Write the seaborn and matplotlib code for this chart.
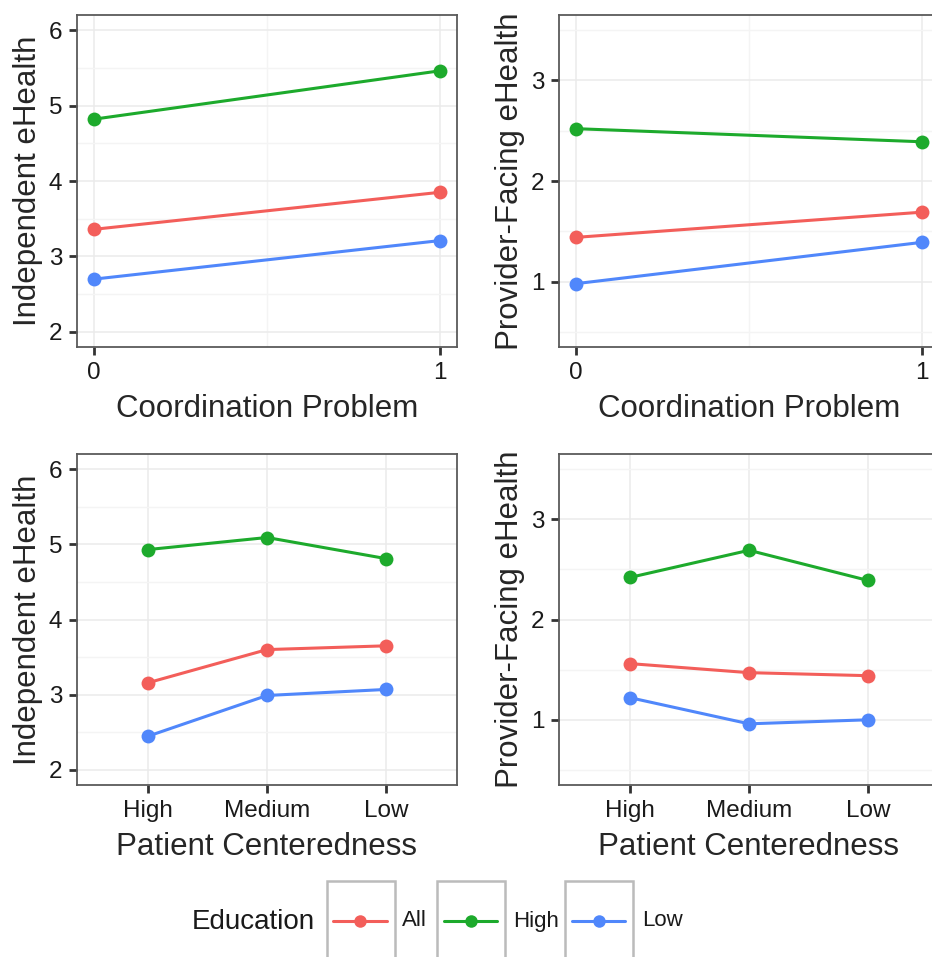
import matplotlib
matplotlib.use("Agg")
import matplotlib.pyplot as plt
import seaborn as sns
import pandas as pd
import numpy as np
from matplotlib.patches import Rectangle
from matplotlib.lines import Line2D
from matplotlib.ticker import MultipleLocator

# ---- data ----
groups = ["All", "High", "Low"]
palette = ["#F35E5A", "#1DAA2C", "#5087FB"]

coord_x = [0, 1]
coord_indep = {"All": [3.36, 3.85], "High": [4.82, 5.46], "Low": [2.70, 3.21]}
coord_prov = {"All": [1.44, 1.69], "High": [2.52, 2.39], "Low": [0.98, 1.39]}

pc_levels = ["High", "Medium", "Low"]
pc_indep = {"All": [3.16, 3.60, 3.65], "High": [4.93, 5.09, 4.81], "Low": [2.45, 2.99, 3.07]}
pc_prov = {"All": [1.56, 1.47, 1.44], "High": [2.42, 2.69, 2.39], "Low": [1.22, 0.96, 1.00]}


def to_long(xs, vals):
    rows = []
    for g in groups:
        for x, v in zip(xs, vals[g]):
            rows.append({"x": x, "y": v, "Education": g})
    return pd.DataFrame(rows)


sns.set_theme(style="white")
plt.rcParams['font.family'] = ['Liberation Sans', 'DejaVu Sans']

W, H = 932, 957
fig = plt.figure(figsize=(W / 100, H / 100), dpi=100)


def px_axes(left, top, right, bottom):
    return fig.add_axes([left / W, 1 - bottom / H, (right - left) / W, (bottom - top) / H])


ax_tl = px_axes(77, 15, 457, 347)
ax_tr = px_axes(559, 15, 939, 347)
ax_bl = px_axes(77, 454, 457, 785)
ax_br = px_axes(559, 454, 939, 785)

line_kw = dict(linewidth=2.2, markersize=10, markeredgewidth=0)

# top row: numeric coordination problem (0/1)
for ax, vals in [(ax_tl, coord_indep), (ax_tr, coord_prov)]:
    sns.lineplot(data=to_long(coord_x, vals), x="x", y="y", hue="Education",
                 hue_order=groups, palette=palette, marker="o", legend=False,
                 ax=ax, **line_kw)
    ax.set_xlim(-0.05, 1.05)
    ax.set_xticks([0, 1])
    ax.xaxis.set_minor_locator(MultipleLocator(0.5))
    ax.set_xlabel("Coordination Problem")

# bottom row: categorical patient centeredness
for ax, vals in [(ax_bl, pc_indep), (ax_br, pc_prov)]:
    sns.pointplot(data=to_long(pc_levels, vals), x="x", y="y", hue="Education",
                  order=pc_levels, hue_order=groups, palette=palette,
                  markers="o", errorbar=None, legend=False, ax=ax, **line_kw)
    ax.set_xlim(-0.6, 2.6)
    ax.set_xlabel("Patient Centeredness")

for ax in [ax_tl, ax_bl]:
    ax.set_ylim(1.8, 6.2)
    ax.set_yticks([2, 3, 4, 5, 6])
    ax.set_ylabel("Independent eHealth")
for ax in [ax_tr, ax_br]:
    ax.set_ylim(0.35, 3.65)
    ax.set_yticks([1, 2, 3])
    ax.set_ylabel("Provider-Facing eHealth")

for ax in [ax_tl, ax_tr, ax_bl, ax_br]:
    ax.yaxis.set_minor_locator(MultipleLocator(0.5))
    ax.set_axisbelow(True)
    ax.grid(True, which="major", color="#EBEBEB", linewidth=1.1)
    ax.grid(True, which="minor", color="#F4F4F4", linewidth=1.0)
    ax.tick_params(which="major", length=5.5, width=2.0, color="#333333",
                   labelsize=17.5, labelcolor="#1a1a1a", pad=5, bottom=True, left=True)
    ax.tick_params(which="minor", length=0)
    ax.xaxis.label.set_size(22.5)
    ax.yaxis.label.set_size(22.5)
    ax.xaxis.labelpad = 7.5
    ax.yaxis.labelpad = 4
    for sp in ax.spines.values():
        sp.set_color("#5a5a5a")
        sp.set_linewidth(1.3)

# ---- legend at the bottom (ggplot style boxed keys) ----
def fx(x):
    return x / W


def fy(y):
    return 1 - y / H


fig.text(fx(192), fy(922), "Education", fontsize=20, ha="left", va="center", color="#1a1a1a")
keys = [(327, 395, 333, 387, 402), (437, 505, 444, 497, 513), (565, 633, 572, 625, 642)]
for (bx0, bx1, lx0, lx1, tx), g, c in zip(keys, groups, palette):
    fig.add_artist(Rectangle((fx(bx0), fy(975)), fx(bx1 - bx0), (975 - 881) / H,
                             transform=fig.transFigure, facecolor="white",
                             edgecolor="#BBBBBB", linewidth=1.8))
    fig.add_artist(Line2D([fx(lx0), fx(lx1)], [fy(921), fy(921)], transform=fig.transFigure,
                          color=c, linewidth=2.2))
    fig.add_artist(Line2D([fx((lx0 + lx1) / 2)], [fy(921)], transform=fig.transFigure,
                          color=c, marker="o", markersize=9, markeredgewidth=0))
    fig.text(fx(tx), fy(921), g, fontsize=16, ha="left", va="center", color="#1a1a1a")

fig.savefig("out.png", dpi=100)
